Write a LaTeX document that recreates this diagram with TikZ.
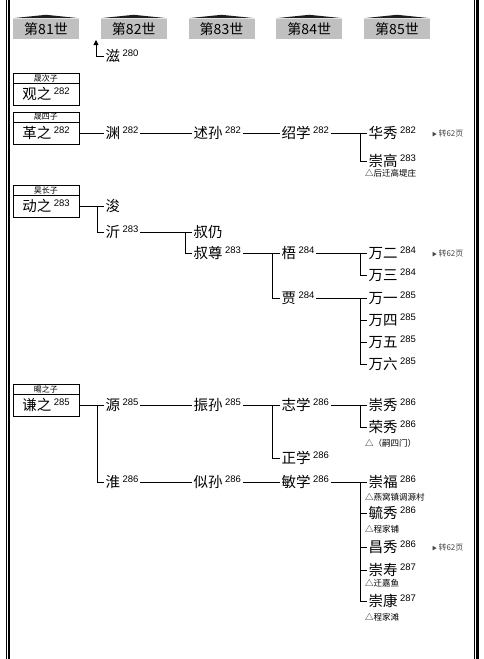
\documentclass[tikz,border=0pt]{standalone}
\usepackage{fontspec}
\setmainfont{Noto Sans CJK SC}
\newfontfamily\numfont{Liberation Sans}
\usetikzlibrary{arrows.meta, positioning}
\usepackage{xcolor}
\definecolor{headgray}{RGB}{192, 192, 192}
\definecolor{roofdark}{RGB}{30, 30, 30}
\definecolor{textdark}{RGB}{0, 0, 0}
\definecolor{pagegray}{RGB}{70, 70, 70}
\newcommand{\gen}[1]{\,\raisebox{5pt}{\numfont\fontsize{9.5}{9.5}\selectfont #1}}

\begin{document}
\begin{tikzpicture}[
    x=1pt, y=-1pt,
    header/.style={rectangle, fill=headgray, minimum width=66pt, minimum height=20pt, inner sep=0pt, font=\fontsize{14}{16}\selectfont},
    person/.style={anchor=west, inner sep=1.5pt, font=\fontsize{14.5}{16}\selectfont, text=textdark},
    elder/.style={rectangle, draw=textdark, minimum width=66pt, minimum height=22pt, inner sep=0pt, line width=0.8pt, font=\fontsize{14.5}{16}\selectfont},
    tag/.style={rectangle, draw=textdark, minimum width=66pt, minimum height=10pt, inner sep=0pt, line width=0.8pt, font=\fontsize{8}{8}\selectfont},
    note/.style={anchor=west, inner sep=0pt, font=\fontsize{8.5}{9}\selectfont},
    pageref/.style={anchor=west, inner sep=0pt, text=pagegray, font=\fontsize{8}{9}\selectfont},
    link/.style={line width=0.8pt, color=textdark},
    arrow/.style={-{Triangle[length=5pt, width=5pt]}, line width=0.8pt, color=textdark},
]
\useasboundingbox (0,0) rectangle (484,659);

% Page border
\draw[line width=0.8pt] (6.3,0) -- (6.3,659);
\draw[line width=2.3pt] (9.2,0) -- (9.2,659);
\draw[line width=0.8pt] (474,0) -- (474,659);
\draw[line width=3pt] (477.3,0) -- (477.3,659);

% Generation headers
\foreach \g [count=\i] in {81,82,83,84,85} {
  \node[header] (h\g) at ({46+87.75*(\i-1)}, 29) {第\g 世};
  \fill[roofdark] ([yshift=0.6pt]h\g.north west) -- ([yshift=4pt]h\g.north) -- ([yshift=0.6pt]h\g.north east) -- cycle;
}

% Continued from above
\coordinate (up) at (96, 40);
\node[person] (zi) at (104, 56) {滋\gen{280}};
\draw[arrow] (zi.west) -| (up);

% Guanzhi
\node[tag] (tguan) at (46, 78) {晟次子};
\node[elder] (guanzhi) at (46, 94) {观之\gen{282}};

% Gezhi
\node[tag] (tge) at (46, 117) {晟四子};
\node[elder] (gezhi) at (46, 133) {革之\gen{282}};
\node[person] (yuan) at (104, 133) {渊\gen{282}};
\node[person] (shusun) at (192, 133) {述孙\gen{282}};
\node[person] (shaoxue) at (280, 133) {绍学\gen{282}};
\node[person] (huaxiu) at (367, 133) {华秀\gen{282}};
\node[pageref] (page1) at (432, 133) {{\fontsize{5}{5}\selectfont ▶}\,转62页};
\node[person] (chonggao) at (367, 161) {崇高\gen{283}};
\node[note] (n1) at (365, 173) {△后迁高堤庄};

\draw[link] (gezhi.east) -- (yuan.west);
\draw[link] (yuan.east) -- (shusun.west);
\draw[link] (shusun.east) -- (shaoxue.west);
\draw[link] (shaoxue.east) -- (huaxiu.west);
\draw[link] ([xshift=-7pt]huaxiu.west) |- (chonggao.west);

% Dongzhi
\node[tag] (tdong) at (46, 190) {昊长子};
\node[elder] (dongzhi) at (46, 206) {动之\gen{283}};
\node[person] (jun) at (104, 206) {浚};
\node[person] (qi) at (104, 232) {沂\gen{283}};
\node[person] (shureng) at (192, 232) {叔仍};
\node[person] (shuzun) at (192, 253) {叔尊\gen{283}};
\node[person] (wu) at (280, 253) {梧\gen{284}};
\node[person] (jia) at (280, 298) {贾\gen{284}};
\node[person] (wan2) at (367, 253) {万二\gen{284}};
\node[pageref] (page2) at (432, 253) {{\fontsize{5}{5}\selectfont ▶}\,转62页};
\node[person] (wan3) at (367, 275) {万三\gen{284}};
\node[person] (wan1) at (367, 298) {万一\gen{285}};
\node[person] (wan4) at (367, 320) {万四\gen{285}};
\node[person] (wan5) at (367, 342) {万五\gen{285}};
\node[person] (wan6) at (367, 364) {万六\gen{285}};

\draw[link] (dongzhi.east) -- (jun.west);
\draw[link] ([xshift=-7pt]jun.west) |- (qi.west);
\draw[link] (qi.east) -- (shureng.west);
\draw[link] ([xshift=-7pt]shureng.west) |- (shuzun.west);
\draw[link] (shuzun.east) -- (wu.west);
\draw[link] ([xshift=-8pt]wu.west) |- (jia.west);
\draw[link] (wu.east) -- (wan2.west);
\draw[link] ([xshift=-7pt]wan2.west) |- (wan3.west);
\draw[link] (jia.east) -- (wan1.west);
\foreach \c in {wan4, wan5, wan6}
  \draw[link] ([xshift=-7pt]wan1.west) |- (\c.west);

% Qianzhi
\node[tag] (tqian) at (46, 389) {暘之子};
\node[elder] (qianzhi) at (46, 405) {谦之\gen{285}};
\node[person] (yuan2) at (104, 405) {源\gen{285}};
\node[person] (zhensun) at (192, 405) {振孙\gen{285}};
\node[person] (zhixue) at (280, 405) {志学\gen{286}};
\node[person] (chongxiu) at (367, 405) {崇秀\gen{286}};
\node[person] (rongxiu) at (367, 427) {荣秀\gen{286}};
\node[note] (n2) at (365, 443) {△（嗣四门）};
\node[person] (zhengxue) at (280, 458) {正学\gen{286}};
\node[person] (huai) at (104, 482) {淮\gen{286}};
\node[person] (sisun) at (192, 482) {似孙\gen{286}};
\node[person] (minxue) at (280, 482) {敏学\gen{286}};
\node[person] (chongfu) at (367, 482) {崇福\gen{286}};
\node[note] (n3) at (365, 497) {△燕窝镇调源村};
\node[person] (yuxiu) at (367, 513) {毓秀\gen{286}};
\node[note] (n4) at (365, 529) {△程家铺};
\node[person] (changxiu) at (367, 547) {昌秀\gen{286}};
\node[pageref] (page3) at (432, 547) {{\fontsize{5}{5}\selectfont ▶}\,转62页};
\node[person] (chongshou) at (367, 570) {崇寿\gen{287}};
\node[note] (n5) at (365, 583) {△迁嘉鱼};
\node[person] (chongkang) at (367, 601) {崇康\gen{287}};
\node[note] (n6) at (365, 617) {△程家滩};

\draw[link] (qianzhi.east) -- (yuan2.west);
\draw[link] ([xshift=-7pt]yuan2.west) |- (huai.west);
\draw[link] (yuan2.east) -- (zhensun.west);
\draw[link] (zhensun.east) -- (zhixue.west);
\draw[link] ([xshift=-8pt]zhixue.west) |- (zhengxue.west);
\draw[link] (zhixue.east) -- (chongxiu.west);
\draw[link] ([xshift=-7pt]chongxiu.west) |- (rongxiu.west);
\draw[link] (huai.east) -- (sisun.west);
\draw[link] (sisun.east) -- (minxue.west);
\draw[link] (minxue.east) -- (chongfu.west);
\foreach \c in {yuxiu, changxiu, chongshou, chongkang}
  \draw[link] ([xshift=-7pt]chongfu.west) |- (\c.west);

\end{tikzpicture}
\end{document}
